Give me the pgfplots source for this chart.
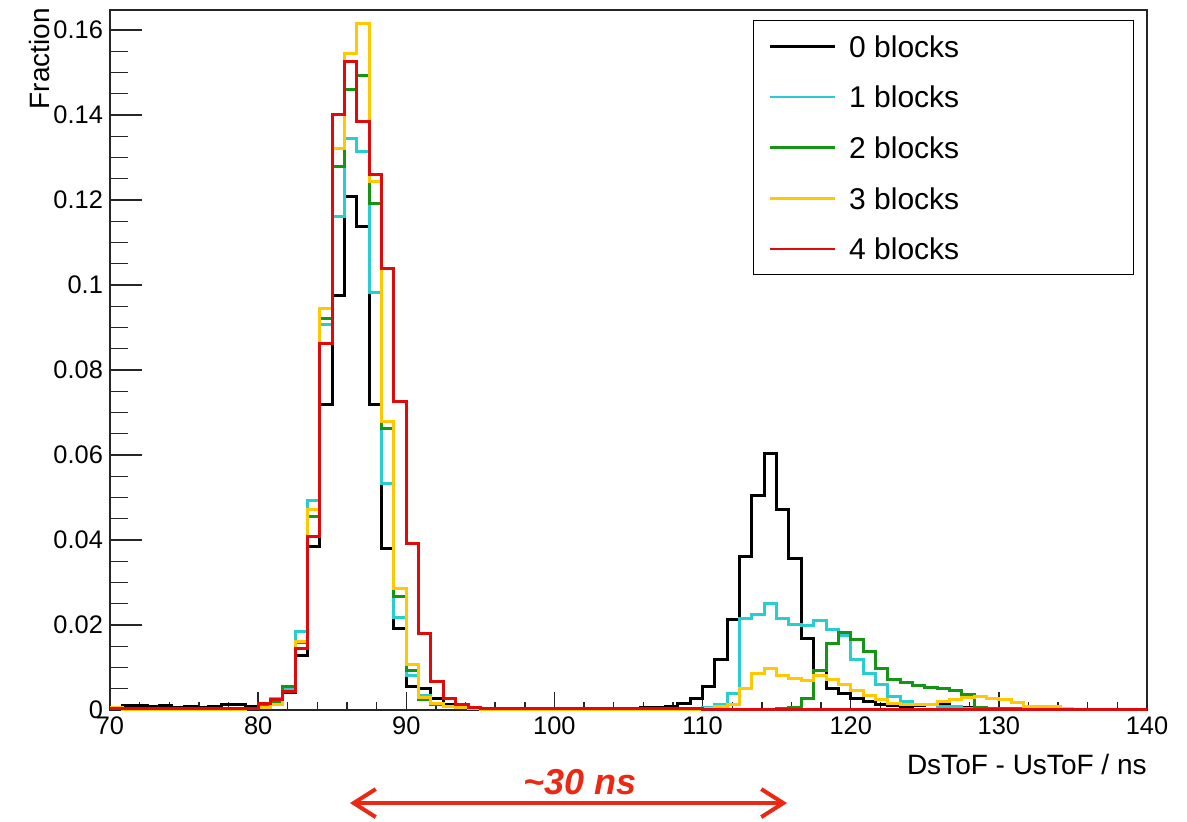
\documentclass[border=0pt]{standalone}
\usepackage{fontspec}
\setmainfont{Liberation Sans}
\usepackage{pgfplots}
\pgfplotsset{compat=1.18}
\usepackage{pgfplotstable}
\usetikzlibrary{arrows.meta}

\definecolor{c0}{RGB}{0,0,0}
\definecolor{c1}{RGB}{40,205,210}
\definecolor{c2}{RGB}{20,150,20}
\definecolor{c3}{RGB}{255,200,0}
\definecolor{c4}{RGB}{225,10,10}
\definecolor{annot}{RGB}{235,40,20}

\pgfplotstableread{
x b0 b1 b2 b3 b4
70.000 0.0004 0.0003 0.0003 0.0006 0.0003
70.833 0.0010 0.0003 0.0003 0.0002 0.0003
71.667 0.0010 0.0002 0.0003 0.0002 0.0003
72.500 0.0009 0.0002 0.0002 0.0002 0.0003
73.333 0.0010 0.0003 0.0002 0.0002 0.0003
74.167 0.0006 0.0002 0.0002 0.0002 0.0003
75.000 0.0008 0.0002 0.0003 0.0002 0.0003
75.833 0.0006 0.0003 0.0002 0.0002 0.0003
76.667 0.0009 0.0002 0.0002 0.0002 0.0003
77.500 0.0012 0.0003 0.0003 0.0002 0.0003
78.333 0.0013 0.0003 0.0002 0.0002 0.0003
79.167 0.0008 0.0004 0.0004 0.0003 0.0003
80.000 0.0014 0.0010 0.0008 0.0005 0.0015
80.833 0.0018 0.0026 0.0018 0.0012 0.0024
81.667 0.0040 0.0050 0.0055 0.0043 0.0044
82.500 0.0129 0.0185 0.0158 0.0160 0.0145
83.333 0.0384 0.0494 0.0455 0.0471 0.0408
84.167 0.0718 0.0906 0.0922 0.0945 0.0863
85.000 0.0976 0.1161 0.1278 0.1322 0.1400
85.833 0.1208 0.1345 0.1459 0.1545 0.1525
86.667 0.1137 0.1314 0.1492 0.1616 0.1384
87.500 0.0718 0.0982 0.1192 0.1243 0.1259
88.333 0.0380 0.0533 0.0663 0.0678 0.1039
89.167 0.0192 0.0217 0.0267 0.0286 0.0725
90.000 0.0055 0.0082 0.0094 0.0106 0.0392
90.833 0.0051 0.0033 0.0024 0.0030 0.0180
91.667 0.0027 0.0015 0.0012 0.0015 0.0067
92.500 0.0012 0.0008 0.0008 0.0008 0.0027
93.333 0.0005 0.0005 0.0005 0.0005 0.0012
94.167 0.0003 0.0003 0.0003 0.0003 0.0006
95.000 0.0002 0.0002 0.0002 0.0002 0.0003
95.833 0.0002 0.0002 0.0002 0.0002 0.0003
96.667 0.0002 0.0002 0.0002 0.0002 0.0003
97.500 0.0002 0.0002 0.0002 0.0002 0.0003
98.333 0.0002 0.0002 0.0002 0.0002 0.0003
99.167 0.0002 0.0002 0.0002 0.0002 0.0003
100.000 0.0002 0.0002 0.0002 0.0002 0.0003
100.833 0.0002 0.0002 0.0002 0.0002 0.0003
101.667 0.0002 0.0002 0.0002 0.0002 0.0003
102.500 0.0002 0.0002 0.0002 0.0002 0.0003
103.333 0.0002 0.0002 0.0002 0.0002 0.0003
104.167 0.0002 0.0002 0.0002 0.0002 0.0003
105.000 0.0003 0.0002 0.0002 0.0002 0.0003
105.833 0.0005 0.0002 0.0002 0.0002 0.0003
106.667 0.0006 0.0002 0.0002 0.0002 0.0003
107.500 0.0009 0.0002 0.0002 0.0002 0.0003
108.333 0.0016 0.0002 0.0002 0.0002 0.0003
109.167 0.0027 0.0003 0.0002 0.0002 0.0003
110.000 0.0055 0.0005 0.0002 0.0003 0.0002
110.833 0.0119 0.0012 0.0002 0.0009 0.0002
111.667 0.0212 0.0039 0.0002 0.0012 0.0002
112.500 0.0361 0.0216 0.0002 0.0051 0.0002
113.333 0.0504 0.0224 0.0002 0.0086 0.0002
114.167 0.0604 0.0251 0.0002 0.0098 0.0002
115.000 0.0472 0.0216 0.0003 0.0080 0.0002
115.833 0.0357 0.0202 0.0005 0.0075 0.0002
116.667 0.0169 0.0198 0.0027 0.0069 0.0002
117.500 0.0094 0.0210 0.0094 0.0082 0.0002
118.333 0.0051 0.0190 0.0157 0.0072 0.0002
119.167 0.0039 0.0176 0.0182 0.0059 0.0002
120.000 0.0027 0.0118 0.0166 0.0045 0.0002
120.833 0.0020 0.0086 0.0137 0.0035 0.0002
121.667 0.0012 0.0059 0.0098 0.0024 0.0002
122.500 0.0010 0.0031 0.0071 0.0016 0.0002
123.333 0.0008 0.0020 0.0064 0.0012 0.0002
124.167 0.0010 0.0012 0.0057 0.0012 0.0002
125.000 0.0013 0.0012 0.0053 0.0012 0.0002
125.833 0.0013 0.0008 0.0050 0.0020 0.0002
126.667 0.0006 0.0008 0.0045 0.0024 0.0002
127.500 0.0005 0.0004 0.0037 0.0029 0.0002
128.333 0.0004 0.0004 0.0005 0.0031 0.0002
129.167 0.0004 0.0003 0.0003 0.0027 0.0002
130.000 0.0003 0.0003 0.0003 0.0024 0.0002
130.833 0.0003 0.0003 0.0003 0.0017 0.0002
131.667 0.0003 0.0002 0.0002 0.0009 0.0002
132.500 0.0007 0.0002 0.0002 0.0009 0.0002
133.333 0.0003 0.0002 0.0002 0.0008 0.0002
134.167 0.0002 0.0002 0.0002 0.0004 0.0002
135.000 0.0002 0.0002 0.0002 0.0002 0.0002
135.833 0.0002 0.0002 0.0002 0.0002 0.0002
136.667 0.0002 0.0002 0.0002 0.0002 0.0002
137.500 0.0002 0.0002 0.0002 0.0002 0.0002
138.333 0.0002 0.0002 0.0002 0.0002 0.0002
139.167 0.0002 0.0002 0.0002 0.0002 0.0002
140.000 0.0002 0.0002 0.0002 0.0002 0.0002
}\histdata

\begin{document}
\begin{tikzpicture}
\useasboundingbox (-55pt,-56pt) rectangle (538.5pt,355pt);
\begin{axis}[
  at={(0pt,0pt)}, anchor=south west,
  scale only axis, width=518.5pt, height=350pt,
  xmin=70, xmax=140, ymin=0, ymax=0.1647,
  clip=false,
  xtick={70,80,90,100,110,120,130,140},
  ytick={0,0.02,0.04,0.06,0.08,0.1,0.12,0.14,0.16},
  minor x tick num=4, minor y tick num=3,
  tick pos=left, tick align=inside,
  x tick style={/pgfplots/major tick length=9pt, /pgfplots/minor tick length=4.2pt},
  y tick style={/pgfplots/major tick length=16pt, /pgfplots/minor tick length=9pt},
  tick style={line width=0.7pt, black!85},
  axis line style={line width=0.9pt, black!85},
  scaled y ticks=false,
  /pgf/number format/assume math mode=true,
  yticklabel style={/pgf/number format/fixed, /pgf/number format/precision=2},
  ticklabel style={font=\fontsize{12.7}{14}\selectfont},
  xlabel={DsToF - UsToF / ns},
  xlabel style={at={(axis description cs:1,-0.0629)}, anchor=north east, inner sep=0pt, font=\fontsize{14}{16}\selectfont},
  ylabel={Fraction},
  ylabel style={at={(axis description cs:-0.058,1.003)}, anchor=south east, inner sep=0pt, font=\fontsize{14}{16}\selectfont},
  legend style={
    at={(axis description cs:0.9874,0.9857)}, anchor=north east,
    draw=black, line width=0.7pt, fill=white,
    inner xsep=7.5pt, inner ysep=7.4pt,
    font=\fontsize{15}{18}\selectfont,
    nodes={inner sep=0pt, text height=10.8pt, text depth=0pt},
    row sep=14.55pt, column sep=6.5pt,
  },
  legend cell align=left,
  legend image code/.code={\draw[#1, line width=1.4pt] (0pt,0pt) -- (32.5pt,0pt);},
]
\addplot[const plot, c0, line width=1.5pt, line join=miter] table[x=x, y=b0] {\histdata};
\addlegendentry{\makebox[134.5pt][l]{0 blocks}}
\addplot[const plot, c1, line width=1.5pt, line join=miter] table[x=x, y=b1] {\histdata};
\addlegendentry{\makebox[134.5pt][l]{1 blocks}}
\addplot[const plot, c2, line width=1.5pt, line join=miter] table[x=x, y=b2] {\histdata};
\addlegendentry{\makebox[134.5pt][l]{2 blocks}}
\addplot[const plot, c3, line width=1.5pt, line join=miter] table[x=x, y=b3] {\histdata};
\addlegendentry{\makebox[134.5pt][l]{3 blocks}}
\addplot[const plot, c4, line width=1.5pt, line join=miter] table[x=x, y=b4] {\histdata};
\addlegendentry{\makebox[134.5pt][l]{4 blocks}}

\draw[annot, line width=2pt, {Straight Barb[length=11pt,width=14pt]}-{Straight Barb[length=11pt,width=14pt]}]
  (axis cs:86.2,-0.0219) -- (axis cs:115.7,-0.0219);
\node[annot, inner sep=0pt, font=\fontsize{18}{20}\selectfont\bfseries\itshape] at (axis cs:101.7,-0.0169) {\textasciitilde30 ns};
\end{axis}
\end{tikzpicture}
\end{document}
